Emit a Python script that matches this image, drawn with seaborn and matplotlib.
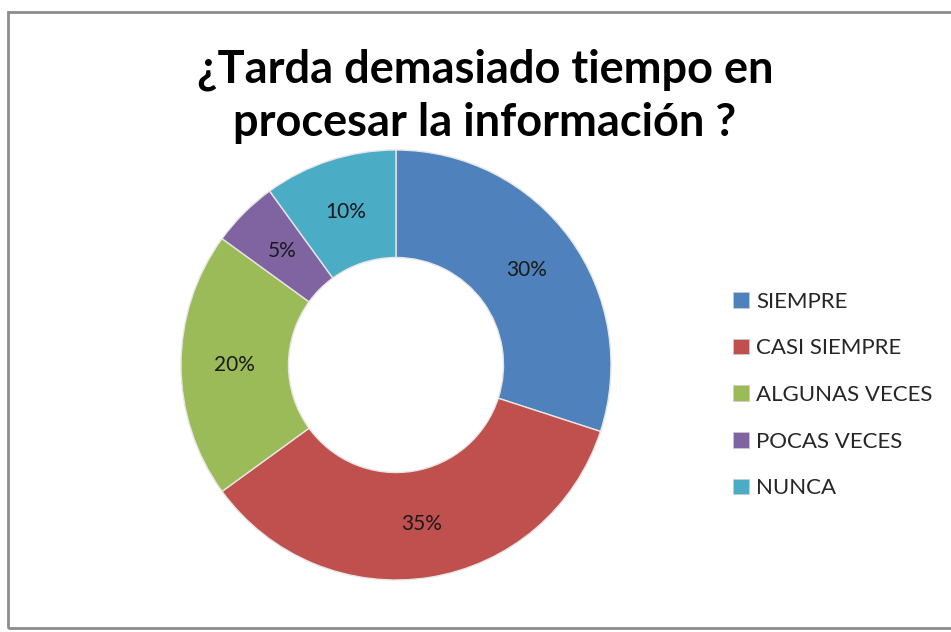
import seaborn as sns
import numpy as np
from matplotlib import pyplot as plt
from matplotlib import patches

categorias = ["SIEMPRE", "CASI SIEMPRE", "ALGUNAS VECES", "POCAS VECES", "NUNCA"]
porcentajes = [30, 35, 20, 5, 10]
colores = ["#4F81BD", "#C0504D", "#9BBB59", "#8064A2", "#4BACC6"]
titulo = "¿Tarda demasiado tiempo en\nprocesar la información ?"

sns.set_theme(style="white")
sns.set_palette(sns.color_palette(colores))
plt.rcParams['font.family'] = ['Lato', 'DejaVu Sans']

fig = plt.figure(figsize=(9.51, 6.32), dpi=100)
W, H = 951, 632

# marco gris del grafico
fig.add_artist(patches.Rectangle((8 / W, 4 / H), 1.2, (H - 16) / H, transform=fig.transFigure,
                                 fill=False, edgecolor="#8c8c8c", linewidth=2))

# dona
cx, cy, r = 396, 632 - 365, 215
ax = fig.add_axes([(cx - r) / W, (cy - r) / H, 2 * r / W, 2 * r / H])
wedges, textos, autotextos = ax.pie(
    porcentajes, colors=colores, startangle=90, counterclock=False,
    autopct=lambda p: f"{p:.0f}%", pctdistance=0.75, radius=1,
    wedgeprops=dict(width=0.5, edgecolor="#e6e6e6", linewidth=1),
    textprops=dict(fontsize=15, color="#1a1a1a"))
ax.set_xlim(-1, 1)
ax.set_ylim(-1, 1)
ax.set_aspect("equal")
ax.axis("off")

fig.text(485 / W, 1 - 96 / H, titulo, ha="center", va="center", fontsize=32.5,
         fontweight="bold", linespacing=1.32, color="black")

handles = [patches.Patch(facecolor=c, edgecolor="#cccccc", linewidth=0.5) for c in colores]
fig.legend(handles, categorias, loc="center left", bbox_to_anchor=(722 / W, 1 - 395 / H),
           frameon=False, fontsize=16, handlelength=0.7, handleheight=0.7,
           handletextpad=0.35, labelspacing=1.2, borderpad=0)

fig.savefig("out.png", dpi=100, facecolor="white")
